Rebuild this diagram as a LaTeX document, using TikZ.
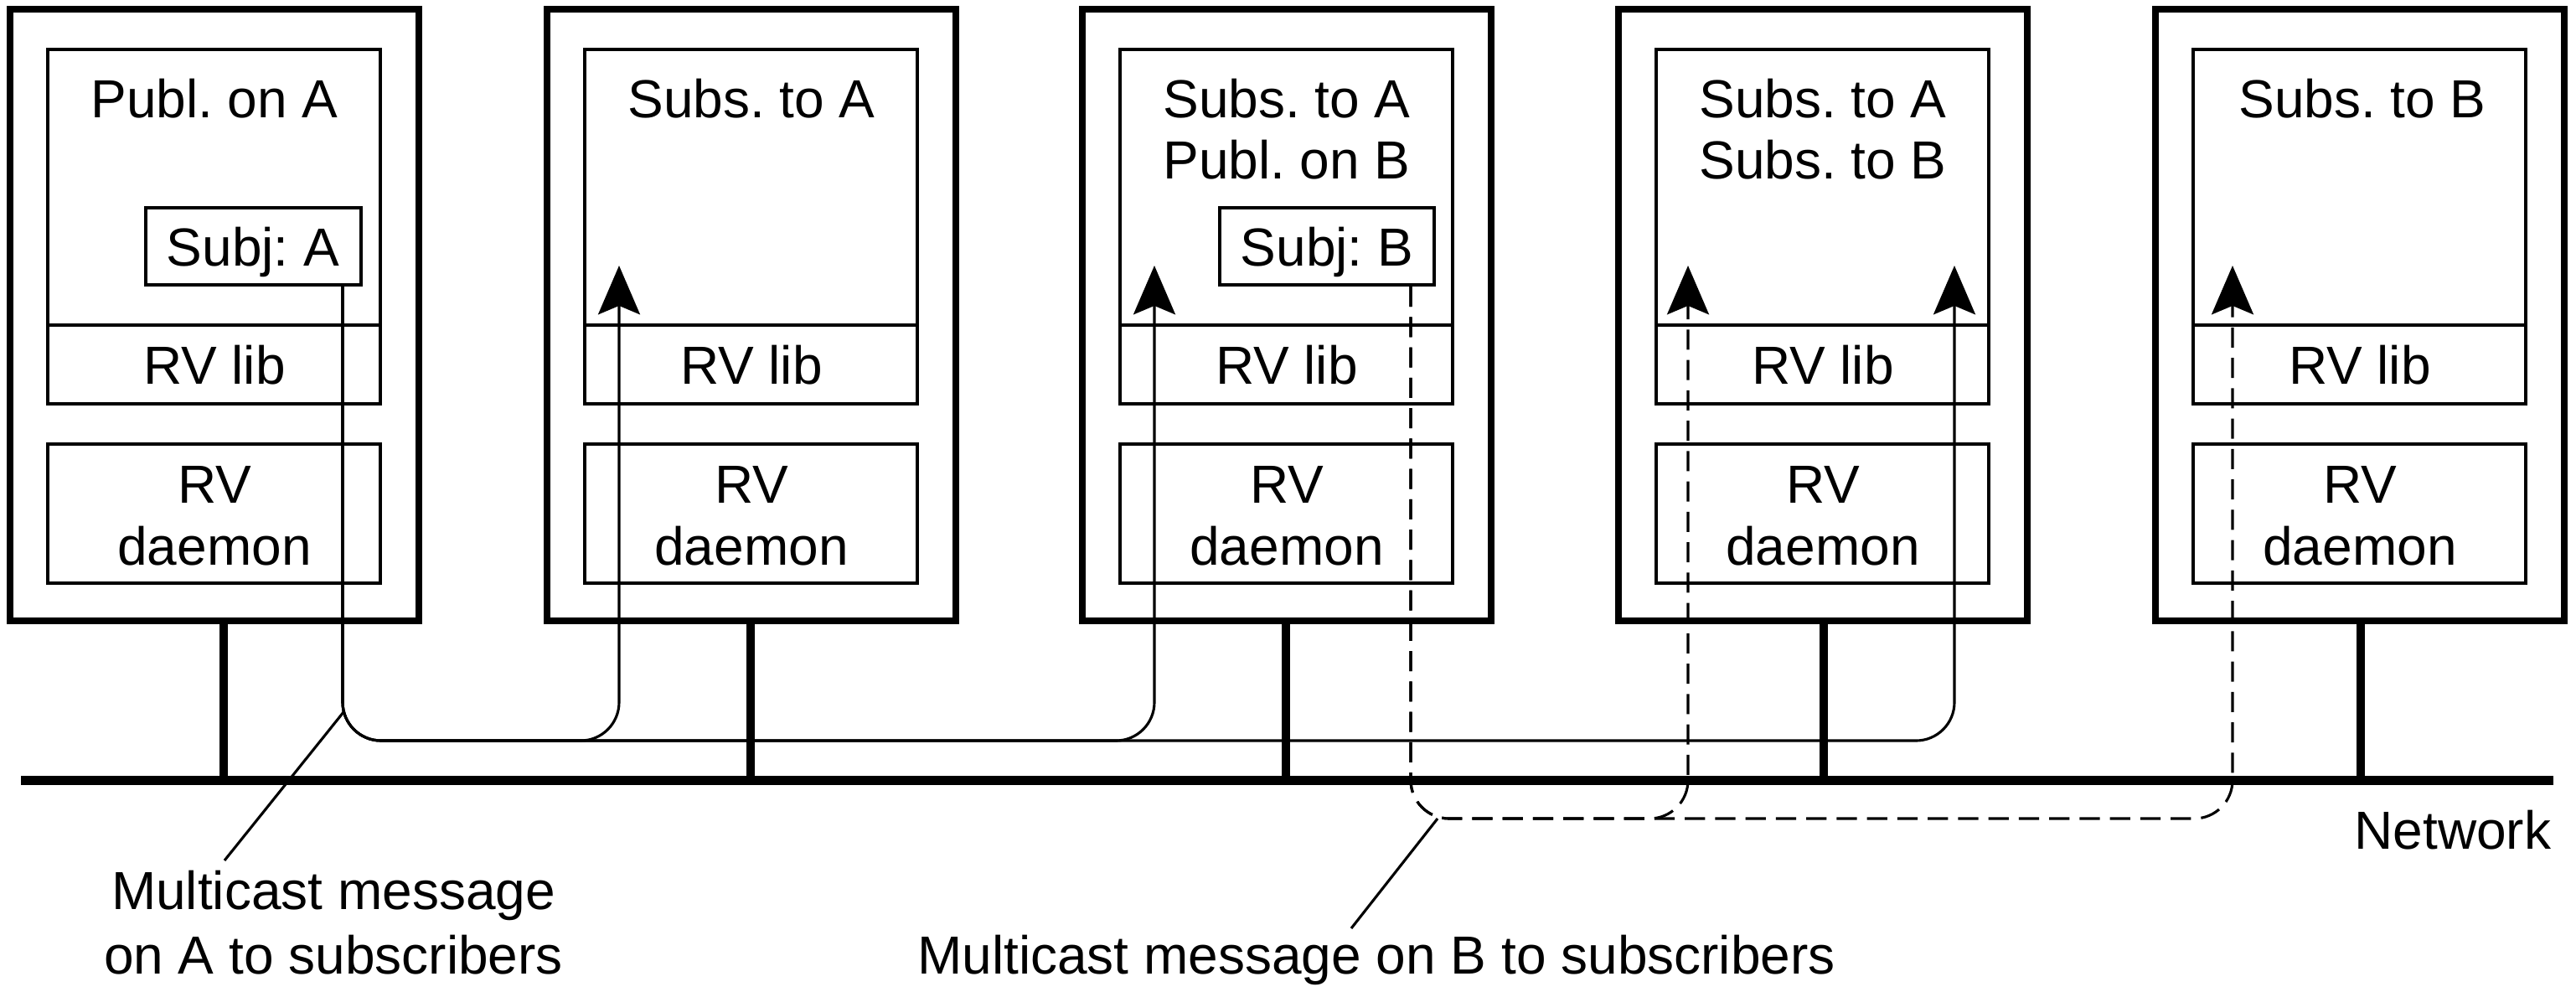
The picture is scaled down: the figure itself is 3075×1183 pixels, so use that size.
\documentclass[tikz,border=0pt]{standalone}
\usepackage{fontspec}
\setmainfont{Liberation Sans}
\usetikzlibrary{arrows.meta,calc}
\frenchspacing
\begin{document}
\begin{tikzpicture}[x=0.24pt,y=-0.24pt,
  box/.style={draw, inner sep=0pt, outer sep=0pt, anchor=north west, line width=0.96pt},
  outerbox/.style={box, line width=1.92pt, minimum width=117.12pt, minimum height=175.2pt},
  appbox/.style={box, minimum width=95.28pt, minimum height=78.96pt},
  libbox/.style={box, minimum width=95.28pt, minimum height=22.56pt},
  dmnbox/.style={box, minimum width=95.28pt, minimum height=39.84pt},
  subjbox/.style={box, minimum height=22.08pt},
  txt/.style={anchor=base, inner sep=0pt, font=\fontsize{15.36}{17.76}\selectfont\frenchspacing},
  stemline/.style={line width=2.2pt},
  netline/.style={line width=2.64pt},
  msg/.style={line width=0.75pt, rounded corners=11pt},
  arr/.style={-{Stealth[length=14pt,width=12pt,inset=2.5pt]}},
  dsh/.style={dash pattern=on 5.8pt off 2.9pt},
  leader/.style={line width=0.75pt}]
\useasboundingbox (0,0) rectangle (3075,1183);

\newcommand\hostbox[3]{%
  \node[outerbox] (#1) at (#2+4,11) {};
  \node[appbox] (#1app) at (#2+49,59) {};
  \node[libbox] (#1lib) at (#2+49,388) {};
  \node[dmnbox] (#1dmn) at (#2+49,530) {};
  \node[txt] (#1libt) at (#2+248,458) {RV lib};
  \node[txt] (#1rv) at (#2+248,600) {RV};
  \node[txt] (#1dm) at (#2+248,674) {daemon};
  \coordinate (#1stem) at (#3,745);
  \draw[stemline] (#1stem) -- (#1stem |- netL);
}

\coordinate (netL) at (25,931);
\coordinate (netR) at (3048,931);
\draw[netline] (netL) -- (netR);
\node[txt, anchor=base east] (netlab) at (3046,1013) {Network};

\hostbox{hA}{8}{267}
\hostbox{hB}{649}{896}
\hostbox{hC}{1288}{1535}
\hostbox{hD}{1928}{2177}
\hostbox{hE}{2569}{2818}

% application texts
\node[txt] (tA) at (256,140) {Publ. on A};
\node[txt] (tB) at (897,140) {Subs. to A};
\node[txt] (tC1) at (1536,140) {Subs. to A};
\node[txt] (tC2) at (1536,213) {Publ. on B};
\node[txt] (tD1) at (2176,140) {Subs. to A};
\node[txt] (tD2) at (2176,213) {Subs. to B};
\node[txt] (tE) at (2820,140) {Subs. to B};

% subject boxes
\node[subjbox, minimum width=61.68pt] (subjA) at (174,248) {};
\node[txt] (subjAt) at (302,317) {Subj: A};
\node[subjbox, minimum width=61.44pt] (subjB) at (1456,248) {};
\node[txt] (subjBt) at (1584,317) {Subj: B};

% message paths
\coordinate (aout) at (409,342);
\coordinate (bout) at (1684,342);
\coordinate (busA) at (0,884);
\coordinate (busB) at (0,977);
\coordinate (tA1) at (739,317);
\coordinate (tA2) at (1378,317);
\coordinate (tA3) at (2333,317);
\coordinate (tB1) at (2015,317);
\coordinate (tB2) at (2665,317);

\foreach \t in {tA1,tA2,tA3}
  \draw[msg,arr] (aout) -- (aout |- busA) -- (\t |- busA) -- (\t);
\foreach \t in {tB1,tB2}
  \draw[msg,arr,dsh] (bout) -- (bout |- busB) -- (\t |- busB) -- (\t);

% labels
\node[txt] (labA1) at (398,1085) {Multicast message};
\node[txt] (labA2) at (398,1162) {on A to subscribers};
\node[txt] (labB) at (1643,1162) {Multicast message on B to subscribers};
\coordinate (ldA) at (410,850);
\coordinate (ldAend) at (268,1027);
\coordinate (ldB) at (1716,977);
\coordinate (ldBend) at (1613,1108);
\draw[leader] (ldA) -- (ldAend);
\draw[leader] (ldB) -- (ldBend);
\end{tikzpicture}
\end{document}
